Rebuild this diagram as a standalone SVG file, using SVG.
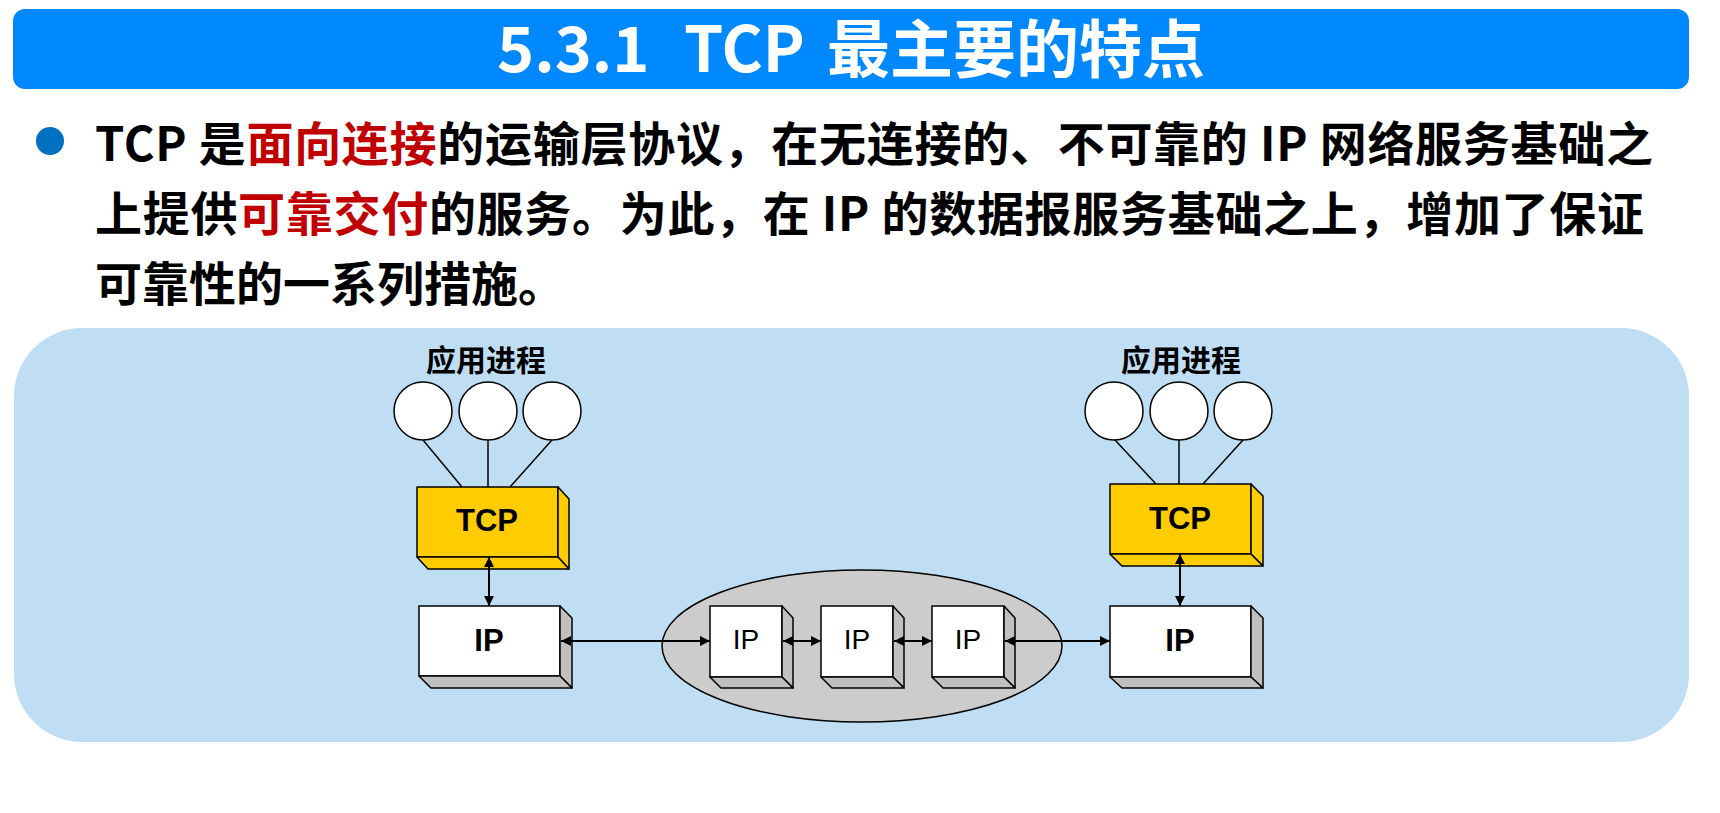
<svg xmlns="http://www.w3.org/2000/svg" width="1720" height="813" viewBox="0 0 1720 813">
  <style>
    .cjk { font-family: "Noto Sans CJK SC", "Noto Sans", sans-serif; font-weight: bold; }
    .body { font-size: 47px; fill: #000; }
    .hl { fill: #C00000; }
    .lbl { font-family: "Liberation Sans", Arial, sans-serif; font-size: 28px; text-anchor: middle; fill: #000; }
    .b { font-weight: bold; font-size: 31px; }
    .edge { stroke: #000; stroke-width: 1.5; stroke-linejoin: round; }
    .tcp { fill: #FFCC00; }
    .ip { fill: #FFFFFF; }
    .side-ip { fill: #C0C0C0; }
    .proc { fill: #FFFFFF; stroke: #000; stroke-width: 1.5; }
    .wire { stroke: #000; stroke-width: 1.5; fill: none; }
    .link { stroke: #000; stroke-width: 2; fill: none; marker-start: url(#ah); marker-end: url(#ah); }
  </style>
  <defs>
    <marker id="ah" viewBox="0 0 10 10" refX="10" refY="5" markerWidth="10" markerHeight="10" markerUnits="userSpaceOnUse" orient="auto-start-reverse">
      <path d="M0,0 L10,5 L0,10 z" fill="#000"/>
    </marker>
  </defs>

  <!-- title bar -->
  <g id="title">
    <rect x="13" y="9" width="1676" height="80" rx="12" fill="#0088FF"/>
    <text class="cjk" font-size="63" fill="#FFFFFF" y="72"><tspan x="497">5.3.1</tspan><tspan x="684">TCP</tspan><tspan x="827">最主要的特点</tspan></text>
  </g>

  <!-- bullet paragraph -->
  <g id="bullet">
    <circle cx="50" cy="141" r="14" fill="#0070C0"/>
    <text class="cjk body" x="95" y="161" textLength="1558" lengthAdjust="spacing">TCP 是<tspan class="hl">面向连接</tspan>的运输层协议，在无连接的、不可靠的 IP 网络服务基础之</text>
    <text class="cjk body" x="95" y="231" textLength="1549" lengthAdjust="spacing">上提供<tspan class="hl">可靠交付</tspan>的服务。为此，在 IP 的数据报服务基础之上，增加了保证</text>
    <text class="cjk body" x="95" y="301">可靠性的一系列措施。</text>
  </g>

  <!-- diagram panel -->
  <rect id="panel" x="14" y="328" width="1675" height="414" rx="68" fill="#BFDEF3"/>

  <!-- network cloud -->
  <ellipse id="network" cx="862" cy="646" rx="200" ry="76" fill="#CCCCCC" stroke="#000" stroke-width="1.5"/>

  <!-- left host -->
  <g id="left-host">
    <text class="cjk" font-size="30" text-anchor="middle" x="486" y="371">应用进程</text>
    <circle class="proc" cx="423" cy="411" r="29"/>
    <circle class="proc" cx="488" cy="411" r="29"/>
    <circle class="proc" cx="552" cy="411" r="29"/>
    <line class="wire" x1="423" y1="440" x2="462" y2="487"/>
    <line class="wire" x1="488" y1="440" x2="488" y2="487"/>
    <line class="wire" x1="552" y1="440" x2="510" y2="487"/>
  </g>
  <g id="left-tcp">
    <rect class="edge tcp" x="417" y="487" width="141" height="70"/>
    <polygon class="edge tcp" points="558,487 569,499 569,569 558,557"/>
    <polygon class="edge tcp" points="417,557 558,557 569,569 428,569"/>
    <text class="lbl b" x="487" y="531">TCP</text>
  </g>
  <g id="left-ip">
    <rect class="edge ip" x="419" y="606" width="141" height="70"/>
    <polygon class="edge side-ip" points="560,606 572,618 572,688 560,676"/>
    <polygon class="edge side-ip" points="419,676 560,676 572,688 431,688"/>
    <text class="lbl b" x="489" y="651">IP</text>
  </g>

  <!-- routers -->
  <g id="router-1">
    <rect class="edge ip" x="710" y="606" width="72" height="71"/>
    <polygon class="edge side-ip" points="782,606 793,618 793,688 782,677"/>
    <polygon class="edge side-ip" points="710,677 782,677 793,688 721,688"/>
    <text class="lbl" x="746" y="649">IP</text>
  </g>
  <g id="router-2">
    <rect class="edge ip" x="821" y="606" width="72" height="71"/>
    <polygon class="edge side-ip" points="893,606 904,618 904,688 893,677"/>
    <polygon class="edge side-ip" points="821,677 893,677 904,688 832,688"/>
    <text class="lbl" x="857" y="649">IP</text>
  </g>
  <g id="router-3">
    <rect class="edge ip" x="932" y="606" width="72" height="71"/>
    <polygon class="edge side-ip" points="1004,606 1015,618 1015,688 1004,677"/>
    <polygon class="edge side-ip" points="932,677 1004,677 1015,688 943,688"/>
    <text class="lbl" x="968" y="649">IP</text>
  </g>

  <!-- right host -->
  <g id="right-host">
    <text class="cjk" font-size="30" text-anchor="middle" x="1181" y="371">应用进程</text>
    <circle class="proc" cx="1114" cy="411" r="29"/>
    <circle class="proc" cx="1179" cy="411" r="29"/>
    <circle class="proc" cx="1243" cy="411" r="29"/>
    <line class="wire" x1="1115" y1="440" x2="1156" y2="484"/>
    <line class="wire" x1="1179" y1="440" x2="1179" y2="484"/>
    <line class="wire" x1="1243" y1="440" x2="1203" y2="484"/>
  </g>
  <g id="right-tcp">
    <rect class="edge tcp" x="1110" y="484" width="141" height="70"/>
    <polygon class="edge tcp" points="1251,484 1263,496 1263,566 1251,554"/>
    <polygon class="edge tcp" points="1110,554 1251,554 1263,566 1122,566"/>
    <text class="lbl b" x="1180" y="529">TCP</text>
  </g>
  <g id="right-ip">
    <rect class="edge ip" x="1110" y="606" width="141" height="71"/>
    <polygon class="edge side-ip" points="1251,606 1263,618 1263,688 1251,677"/>
    <polygon class="edge side-ip" points="1110,677 1251,677 1263,688 1122,688"/>
    <text class="lbl b" x="1180" y="651">IP</text>
  </g>

  <!-- connectors -->
  <g id="connectors">
    <line class="link" x1="489" y1="557" x2="489" y2="606"/>
    <line class="link" x1="1180" y1="554" x2="1180" y2="606"/>
    <line class="link" x1="561" y1="641" x2="710" y2="641"/>
    <line class="link" x1="783" y1="641" x2="821" y2="641"/>
    <line class="link" x1="894" y1="641" x2="932" y2="641"/>
    <line class="link" x1="1005" y1="641" x2="1110" y2="641"/>
  </g>
</svg>
